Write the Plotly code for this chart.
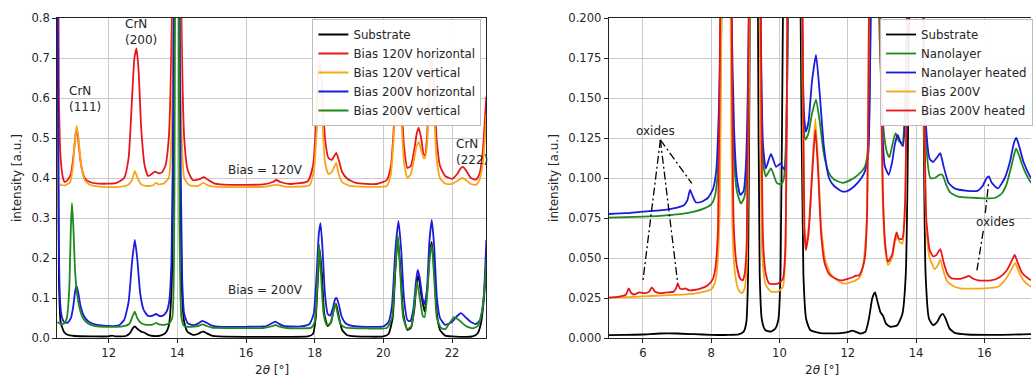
import plotly.graph_objects as go

# ---------------------------------------------------------------------------
# Diffraction patterns: (2theta [deg], intensity [a.u.]) sample points
# ---------------------------------------------------------------------------

# Panel 1: CrN coatings deposited with different bias voltages
left_substrate = [
    (10.5, 1.0), (10.55, 0.15), (10.6, 0.04), (10.7, 0.015), (10.8, 0.008), (11.0, 0.005),
    (11.5, 0.004), (12.0, 0.004), (12.1, 0.006), (12.2, 0.004), (12.5, 0.005), (12.62, 0.012),
    (12.7, 0.024), (12.76, 0.029), (12.85, 0.022), (12.95, 0.016), (13.05, 0.013), (13.15, 0.008),
    (13.3, 0.005), (13.5, 0.006), (13.65, 0.012), (13.75, 0.03), (13.83, 0.12), (13.9, 0.6),
    (13.98, 3.0), (14.06, 0.6), (14.13, 0.12), (14.2, 0.04), (14.3, 0.015), (14.45, 0.008),
    (14.6, 0.01), (14.7, 0.015), (14.76, 0.016), (14.85, 0.012), (15.0, 0.006), (15.2, 0.004),
    (16.0, 0.003), (17.0, 0.003), (17.8, 0.004), (17.95, 0.01), (18.03, 0.05), (18.1, 0.16),
    (18.15, 0.22), (18.21, 0.16), (18.28, 0.06), (18.38, 0.03), (18.48, 0.04), (18.55, 0.07),
    (18.62, 0.085), (18.7, 0.055), (18.8, 0.02), (18.95, 0.007), (19.2, 0.004), (20.0, 0.004),
    (20.15, 0.01), (20.27, 0.05), (20.35, 0.17), (20.42, 0.25), (20.5, 0.17), (20.58, 0.06),
    (20.7, 0.02), (20.8, 0.025), (20.9, 0.07), (20.97, 0.14), (21.02, 0.155), (21.1, 0.11),
    (21.2, 0.066), (21.28, 0.12), (21.35, 0.21), (21.41, 0.24), (21.48, 0.17), (21.56, 0.06),
    (21.65, 0.02), (21.8, 0.006), (22.0, 0.004), (22.6, 0.004), (22.75, 0.012), (22.85, 0.04),
    (22.93, 0.1), (23.0, 0.19),
]
left_120_horizontal = [
    (10.5, 1.5), (10.55, 0.6), (10.6, 0.45), (10.67, 0.4), (10.72, 0.39), (10.8, 0.395),
    (10.9, 0.41), (10.98, 0.46), (11.04, 0.51), (11.08, 0.52), (11.13, 0.48), (11.2, 0.43),
    (11.3, 0.4), (11.45, 0.39), (11.7, 0.386), (12.2, 0.387), (12.45, 0.4), (12.58, 0.45),
    (12.68, 0.6), (12.75, 0.7), (12.81, 0.724), (12.87, 0.67), (12.95, 0.52), (13.05, 0.43),
    (13.15, 0.405), (13.25, 0.41), (13.35, 0.416), (13.45, 0.412), (13.55, 0.414), (13.65, 0.43),
    (13.75, 0.5), (13.84, 0.8), (13.98, 3.0), (14.12, 0.8), (14.2, 0.5), (14.3, 0.42),
    (14.45, 0.395), (14.65, 0.397), (14.77, 0.402), (14.9, 0.395), (15.1, 0.386), (15.5, 0.383),
    (16.5, 0.384), (16.78, 0.39), (16.88, 0.395), (17.0, 0.39), (17.3, 0.385), (17.8, 0.392),
    (17.95, 0.43), (18.05, 0.55), (18.1, 0.66), (18.15, 0.69), (18.22, 0.62), (18.3, 0.5),
    (18.4, 0.45), (18.5, 0.445), (18.57, 0.455), (18.63, 0.463), (18.7, 0.445), (18.8, 0.415),
    (18.95, 0.398), (19.2, 0.388), (19.8, 0.385), (20.1, 0.395), (20.22, 0.43), (20.3, 0.52),
    (20.38, 0.64), (20.44, 0.67), (20.52, 0.6), (20.6, 0.48), (20.7, 0.425), (20.8, 0.43),
    (20.9, 0.47), (20.97, 0.51), (21.03, 0.526), (21.1, 0.5), (21.17, 0.46), (21.21, 0.456),
    (21.27, 0.5), (21.33, 0.62), (21.4, 0.7), (21.47, 0.64), (21.55, 0.5), (21.65, 0.43),
    (21.8, 0.405), (22.0, 0.398), (22.15, 0.41), (22.25, 0.424), (22.32, 0.428), (22.4, 0.42),
    (22.55, 0.4), (22.7, 0.396), (22.8, 0.41), (22.9, 0.47), (22.96, 0.55), (23.0, 0.603),
]
left_120_vertical = [
    (10.5, 0.39), (10.6, 0.383), (10.75, 0.382), (10.88, 0.39), (10.96, 0.43), (11.02, 0.5),
    (11.07, 0.53), (11.12, 0.5), (11.2, 0.43), (11.3, 0.395), (11.45, 0.383), (11.8, 0.378),
    (12.3, 0.378), (12.55, 0.382), (12.68, 0.395), (12.76, 0.418), (12.84, 0.4), (12.95, 0.384),
    (13.1, 0.38), (13.3, 0.382), (13.37, 0.388), (13.45, 0.384), (13.6, 0.386), (13.75, 0.4),
    (13.85, 0.6), (13.97, 3.0), (14.1, 0.6), (14.2, 0.4), (14.35, 0.382), (14.6, 0.38),
    (14.76, 0.388), (14.9, 0.381), (15.2, 0.378), (16.5, 0.378), (16.88, 0.383), (17.2, 0.378),
    (17.85, 0.382), (17.98, 0.42), (18.06, 0.52), (18.12, 0.6), (18.16, 0.62), (18.22, 0.55),
    (18.3, 0.44), (18.4, 0.41), (18.5, 0.415), (18.58, 0.43), (18.63, 0.438), (18.7, 0.41),
    (18.8, 0.39), (19.0, 0.381), (19.5, 0.378), (20.1, 0.38), (20.22, 0.41), (20.3, 0.5),
    (20.38, 0.6), (20.44, 0.62), (20.52, 0.55), (20.6, 0.44), (20.7, 0.4), (20.8, 0.41),
    (20.9, 0.45), (20.97, 0.48), (21.03, 0.49), (21.1, 0.47), (21.17, 0.45), (21.21, 0.45),
    (21.27, 0.48), (21.33, 0.58), (21.4, 0.65), (21.47, 0.58), (21.55, 0.45), (21.65, 0.4),
    (21.8, 0.386), (22.0, 0.385), (22.2, 0.395), (22.3, 0.4), (22.4, 0.395), (22.55, 0.385),
    (22.7, 0.383), (22.8, 0.395), (22.9, 0.44), (22.96, 0.5), (23.0, 0.56),
]
left_200_horizontal = [
    (10.5, 1.2), (10.54, 0.3), (10.58, 0.1), (10.63, 0.055), (10.7, 0.04), (10.8, 0.038),
    (10.9, 0.05), (10.97, 0.08), (11.02, 0.115), (11.06, 0.13), (11.11, 0.115), (11.18, 0.08),
    (11.28, 0.055), (11.4, 0.042), (11.6, 0.034), (12.0, 0.03), (12.3, 0.032), (12.45, 0.045),
    (12.58, 0.09), (12.68, 0.19), (12.76, 0.245), (12.83, 0.2), (12.92, 0.11), (13.02, 0.07),
    (13.15, 0.055), (13.28, 0.056), (13.38, 0.06), (13.48, 0.055), (13.58, 0.056), (13.68, 0.065),
    (13.76, 0.09), (13.83, 0.2), (13.88, 0.6), (13.98, 3.0), (14.08, 0.6), (14.14, 0.15),
    (14.2, 0.06), (14.3, 0.037), (14.45, 0.032), (14.6, 0.036), (14.73, 0.043), (14.85, 0.038),
    (15.0, 0.031), (15.3, 0.028), (16.0, 0.028), (16.6, 0.03), (16.78, 0.038), (16.86, 0.041),
    (16.95, 0.036), (17.1, 0.03), (17.6, 0.029), (17.85, 0.035), (17.97, 0.06), (18.05, 0.15),
    (18.12, 0.26), (18.17, 0.287), (18.23, 0.22), (18.3, 0.11), (18.38, 0.06), (18.45, 0.056),
    (18.53, 0.075), (18.6, 0.098), (18.64, 0.1), (18.7, 0.085), (18.78, 0.055), (18.9, 0.037),
    (19.1, 0.03), (19.5, 0.028), (20.0, 0.029), (20.15, 0.04), (20.25, 0.08), (20.35, 0.22),
    (20.44, 0.293), (20.52, 0.22), (20.6, 0.1), (20.7, 0.045), (20.78, 0.042), (20.87, 0.07),
    (20.95, 0.14), (21.0, 0.17), (21.06, 0.15), (21.14, 0.1), (21.2, 0.085), (21.27, 0.12),
    (21.34, 0.24), (21.41, 0.295), (21.48, 0.23), (21.56, 0.1), (21.65, 0.05), (21.8, 0.033),
    (22.0, 0.04), (22.15, 0.055), (22.26, 0.062), (22.38, 0.053), (22.55, 0.04), (22.7, 0.035),
    (22.82, 0.045), (22.92, 0.1), (23.0, 0.245),
]
left_200_vertical = [
    (10.5, 0.04), (10.6, 0.035), (10.7, 0.036), (10.78, 0.05), (10.85, 0.12), (10.9, 0.28),
    (10.93, 0.337), (10.97, 0.28), (11.02, 0.17), (11.08, 0.11), (11.15, 0.075), (11.25, 0.05),
    (11.4, 0.036), (11.6, 0.03), (12.0, 0.028), (12.4, 0.029), (12.6, 0.035), (12.7, 0.055),
    (12.76, 0.066), (12.83, 0.05), (12.95, 0.037), (13.1, 0.033), (13.3, 0.034), (13.38, 0.038),
    (13.46, 0.034), (13.6, 0.033), (13.75, 0.036), (13.85, 0.05), (13.91, 0.3), (13.99, 3.0),
    (14.06, 0.3), (14.12, 0.05), (14.2, 0.03), (14.4, 0.028), (14.6, 0.03), (14.74, 0.034),
    (14.85, 0.03), (15.0, 0.026), (15.5, 0.025), (16.5, 0.025), (16.78, 0.03), (16.86, 0.033),
    (16.95, 0.029), (17.2, 0.025), (17.9, 0.026), (18.0, 0.04), (18.07, 0.12), (18.13, 0.234),
    (18.19, 0.15), (18.26, 0.06), (18.35, 0.033), (18.45, 0.035), (18.53, 0.06), (18.6, 0.085),
    (18.67, 0.06), (18.75, 0.035), (18.9, 0.026), (19.5, 0.024), (20.1, 0.025), (20.25, 0.05),
    (20.33, 0.15), (20.42, 0.258), (20.5, 0.15), (20.58, 0.05), (20.7, 0.022), (20.82, 0.03),
    (20.9, 0.08), (20.98, 0.14), (21.06, 0.1), (21.15, 0.055), (21.2, 0.052), (21.27, 0.1),
    (21.35, 0.2), (21.41, 0.233), (21.48, 0.15), (21.56, 0.05), (21.68, 0.025), (21.8, 0.022),
    (21.95, 0.04), (22.06, 0.052), (22.2, 0.045), (22.4, 0.03), (22.6, 0.024), (22.75, 0.03),
    (22.88, 0.07), (22.96, 0.14), (23.0, 0.195),
]

# Panel 2: nanolayer and bias coatings, as deposited and heated
right_substrate = [
    (5.0, 0.0018), (5.5, 0.0019), (6.0, 0.0022), (6.5, 0.0028), (7.0, 0.0028), (7.5, 0.0024),
    (8.0, 0.002), (8.5, 0.0019), (8.8, 0.0022), (8.95, 0.004), (9.03, 0.01), (9.08, 0.04),
    (9.13, 0.2), (9.25, 1.0), (9.37, 0.2), (9.42, 0.04), (9.48, 0.012), (9.58, 0.005),
    (9.75, 0.004), (9.88, 0.006), (9.97, 0.012), (10.03, 0.04), (10.1, 0.2), (10.45, 1.0),
    (10.62, 0.2), (10.7, 0.04), (10.78, 0.012), (10.9, 0.005), (11.2, 0.003), (11.8, 0.003),
    (12.05, 0.004), (12.13, 0.0046), (12.22, 0.004), (12.38, 0.0027), (12.52, 0.004),
    (12.62, 0.012), (12.72, 0.025), (12.8, 0.0285), (12.88, 0.022), (12.96, 0.016),
    (13.03, 0.014), (13.12, 0.009), (13.25, 0.007), (13.45, 0.008), (13.6, 0.015), (13.7, 0.04),
    (13.8, 0.2), (14.0, 1.0), (14.2, 0.2), (14.28, 0.04), (14.38, 0.012), (14.5, 0.008),
    (14.62, 0.01), (14.72, 0.014), (14.79, 0.015), (14.87, 0.012), (14.98, 0.006), (15.15, 0.003),
    (15.5, 0.0022), (16.5, 0.002), (17.5, 0.0025),
]
right_nanolayer = [
    (5.0, 0.0752), (5.5, 0.0755), (6.0, 0.0758), (6.5, 0.0763), (7.0, 0.0772), (7.5, 0.079),
    (7.8, 0.081), (8.0, 0.0835), (8.1, 0.088), (8.18, 0.1), (8.25, 0.14), (8.3, 0.2),
    (8.45, 1.0), (8.58, 0.2), (8.65, 0.12), (8.75, 0.092), (8.87, 0.084), (8.97, 0.088),
    (9.05, 0.105), (9.12, 0.2), (9.28, 1.0), (9.43, 0.2), (9.52, 0.11), (9.6, 0.101),
    (9.75, 0.106), (9.92, 0.097), (10.05, 0.096), (10.13, 0.1), (10.2, 0.13), (10.25, 0.2),
    (10.45, 1.0), (10.65, 0.2), (10.7, 0.135), (10.76, 0.124), (10.85, 0.128), (10.95, 0.14),
    (11.07, 0.149), (11.18, 0.135), (11.3, 0.115), (11.45, 0.103), (11.6, 0.099), (11.85, 0.097),
    (12.1, 0.099), (12.3, 0.102), (12.5, 0.107), (12.6, 0.12), (12.67, 0.2), (12.82, 1.0),
    (12.92, 0.2), (12.98, 0.16), (13.05, 0.13), (13.15, 0.116), (13.22, 0.113), (13.3, 0.12),
    (13.4, 0.128), (13.5, 0.123), (13.6, 0.122), (13.67, 0.14), (13.73, 0.2), (14.0, 1.0),
    (14.22, 0.2), (14.3, 0.12), (14.42, 0.1), (14.55, 0.1), (14.68, 0.102), (14.77, 0.102),
    (14.88, 0.096), (15.0, 0.091), (15.23, 0.0883), (15.8, 0.0875), (16.3, 0.0875), (16.5, 0.09),
    (16.65, 0.096), (16.8, 0.108), (16.93, 0.1185), (17.02, 0.114), (17.15, 0.106),
    (17.34, 0.098), (17.5, 0.094),
]
right_nanolayer_heated = [
    (5.0, 0.0775), (5.5, 0.078), (6.0, 0.079), (6.5, 0.0797), (7.0, 0.0815), (7.2, 0.083),
    (7.3, 0.086), (7.38, 0.0925), (7.45, 0.089), (7.55, 0.0848), (7.7, 0.085), (7.9, 0.0875),
    (8.05, 0.093), (8.15, 0.105), (8.22, 0.14), (8.28, 0.2), (8.45, 1.0), (8.6, 0.2),
    (8.67, 0.13), (8.75, 0.1), (8.85, 0.0894), (8.95, 0.092), (9.02, 0.11), (9.1, 0.2),
    (9.28, 1.0), (9.45, 0.2), (9.52, 0.12), (9.6, 0.106), (9.75, 0.115), (9.9, 0.107),
    (10.03, 0.109), (10.15, 0.105), (10.2, 0.12), (10.24, 0.2), (10.45, 1.0), (10.66, 0.2),
    (10.72, 0.14), (10.77, 0.129), (10.85, 0.135), (10.95, 0.16), (11.07, 0.177), (11.17, 0.155),
    (11.3, 0.12), (11.45, 0.1), (11.6, 0.095), (11.85, 0.0915), (12.0, 0.092), (12.2, 0.095),
    (12.4, 0.1), (12.5, 0.104), (12.6, 0.115), (12.67, 0.2), (12.82, 1.0), (12.95, 0.2),
    (13.0, 0.14), (13.08, 0.108), (13.2, 0.102), (13.3, 0.11), (13.38, 0.121), (13.46, 0.127),
    (13.55, 0.122), (13.62, 0.12), (13.68, 0.14), (13.73, 0.2), (14.0, 1.0), (14.22, 0.2),
    (14.3, 0.13), (14.4, 0.112), (14.5, 0.11), (14.62, 0.113), (14.71, 0.1155), (14.8, 0.108),
    (14.95, 0.097), (15.13, 0.0935), (15.5, 0.092), (15.8, 0.092), (15.95, 0.095), (16.07, 0.1),
    (16.13, 0.101), (16.22, 0.097), (16.4, 0.0935), (16.6, 0.1), (16.75, 0.11), (16.87, 0.122),
    (16.94, 0.125), (17.02, 0.12), (17.15, 0.11), (17.34, 0.101), (17.5, 0.096),
]
right_bias200 = [
    (5.0, 0.0252), (5.5, 0.0255), (6.0, 0.026), (6.5, 0.0265), (7.0, 0.027), (7.5, 0.0278),
    (7.8, 0.029), (8.0, 0.0305), (8.1, 0.034), (8.18, 0.045), (8.25, 0.08), (8.3, 0.2),
    (8.45, 1.0), (8.57, 0.2), (8.62, 0.07), (8.7, 0.04), (8.8, 0.03), (8.9, 0.028),
    (8.98, 0.031), (9.05, 0.05), (9.12, 0.2), (9.3, 1.0), (9.42, 0.2), (9.5, 0.05),
    (9.6, 0.033), (9.75, 0.029), (9.95, 0.029), (10.1, 0.032), (10.17, 0.05), (10.23, 0.2),
    (10.45, 1.0), (10.67, 0.2), (10.72, 0.07), (10.78, 0.058), (10.88, 0.075), (10.97, 0.11),
    (11.05, 0.137), (11.13, 0.11), (11.22, 0.07), (11.35, 0.048), (11.5, 0.04), (11.7, 0.036),
    (11.9, 0.034), (12.1, 0.035), (12.23, 0.036), (12.35, 0.038), (12.45, 0.045), (12.55, 0.07),
    (12.62, 0.2), (12.78, 1.0), (12.95, 0.2), (13.02, 0.09), (13.1, 0.055), (13.18, 0.0456),
    (13.3, 0.05), (13.38, 0.06), (13.45, 0.064), (13.52, 0.06), (13.6, 0.059), (13.68, 0.08),
    (13.74, 0.2), (14.0, 1.0), (14.2, 0.2), (14.3, 0.07), (14.4, 0.05), (14.55, 0.043),
    (14.65, 0.046), (14.71, 0.049), (14.8, 0.042), (14.9, 0.036), (15.05, 0.033), (15.3, 0.031),
    (16.0, 0.031), (16.4, 0.032), (16.6, 0.036), (16.75, 0.041), (16.9, 0.047), (17.0, 0.042),
    (17.15, 0.036), (17.3, 0.033), (17.5, 0.031),
]
right_bias200_heated = [
    (5.0, 0.0252), (5.3, 0.0258), (5.5, 0.027), (5.58, 0.031), (5.66, 0.028), (5.75, 0.0272),
    (5.9, 0.0285), (6.05, 0.028), (6.18, 0.029), (6.26, 0.0317), (6.35, 0.029), (6.5, 0.028),
    (6.7, 0.0285), (6.9, 0.029), (6.97, 0.031), (7.02, 0.034), (7.08, 0.031), (7.15, 0.0305),
    (7.24, 0.031), (7.35, 0.0298), (7.5, 0.030), (7.7, 0.031), (7.9, 0.033), (8.05, 0.037),
    (8.13, 0.045), (8.2, 0.07), (8.26, 0.2), (8.45, 1.0), (8.6, 0.2), (8.66, 0.07),
    (8.75, 0.045), (8.85, 0.037), (8.92, 0.036), (8.98, 0.04), (9.04, 0.06), (9.1, 0.2),
    (9.28, 1.0), (9.45, 0.2), (9.52, 0.06), (9.6, 0.04), (9.7, 0.034), (9.95, 0.034),
    (10.1, 0.037), (10.17, 0.055), (10.23, 0.2), (10.45, 1.0), (10.68, 0.2), (10.73, 0.07),
    (10.77, 0.055), (10.85, 0.065), (10.95, 0.1), (11.05, 0.13), (11.13, 0.105), (11.22, 0.065),
    (11.32, 0.047), (11.45, 0.04), (11.65, 0.037), (11.82, 0.036), (12.0, 0.037), (12.15, 0.038),
    (12.23, 0.039), (12.32, 0.039), (12.42, 0.043), (12.5, 0.05), (12.57, 0.08), (12.62, 0.2),
    (12.8, 1.0), (12.95, 0.2), (13.03, 0.09), (13.1, 0.058), (13.18, 0.0477), (13.3, 0.052),
    (13.38, 0.062), (13.43, 0.066), (13.5, 0.062), (13.6, 0.062), (13.68, 0.085), (13.74, 0.2),
    (14.0, 1.0), (14.22, 0.2), (14.3, 0.075), (14.4, 0.055), (14.5, 0.051), (14.6, 0.052),
    (14.71, 0.0556), (14.8, 0.048), (14.92, 0.04), (15.04, 0.0373), (15.3, 0.037), (15.45, 0.038),
    (15.55, 0.0388), (15.68, 0.037), (15.82, 0.036), (16.2, 0.036), (16.45, 0.038), (16.65, 0.042),
    (16.8, 0.048), (16.89, 0.052), (16.98, 0.047), (17.1, 0.041), (17.3, 0.037), (17.5, 0.035),
]

left_series = [
    ("Substrate", left_substrate, "#000000"),
    ("Bias 120V horizontal", left_120_horizontal, "#e8161b"),
    ("Bias 120V vertical", left_120_vertical, "#f9a51a"),
    ("Bias 200V horizontal", left_200_horizontal, "#1a1ae0"),
    ("Bias 200V vertical", left_200_vertical, "#1e8a1e"),
]
right_series = [
    ("Substrate", right_substrate, "#000000"),
    ("Nanolayer", right_nanolayer, "#1e8a1e"),
    ("Nanolayer heated", right_nanolayer_heated, "#1a1ae0"),
    ("Bias 200V", right_bias200, "#f9a51a"),
    ("Bias 200V heated", right_bias200_heated, "#e8161b"),
]

left_xticks = [12, 14, 16, 18, 20, 22]
right_xticks = [6, 8, 10, 12, 14, 16]

FONT = "DejaVu Sans"
TXT = "#262626"
GRID = "#cbcbcb"
W, H = 1033, 378
FS = 12

fig = go.Figure()


def add_series(series, xa, ya, legend):
    for name, pts, color in series:
        xs = [p[0] for p in pts]
        ys = [p[1] for p in pts]
        fig.add_trace(go.Scatter(
            x=xs, y=ys, mode="lines", name=name, xaxis=xa, yaxis=ya,
            legend=legend, line=dict(color=color, width=1.8, shape="spline", smoothing=0.5),
        ))


add_series(left_series, "x", "y", "legend")
add_series(right_series, "x2", "y2", "legend2")

# plot areas in pixels
L1, R1 = 57.3, 487.3
L2, R2 = 610.0, 1033.0
TOP, BOT = 18.0, 338.0
ydom = [(H - BOT) / H, (H - TOP) / H]

axis_common = dict(
    showgrid=True, gridcolor=GRID, gridwidth=1, zeroline=False,
    ticks="outside", ticklen=4, tickwidth=1, tickcolor="#222",
    showline=True, linecolor="#222", linewidth=1,
    tickfont=dict(family=FONT, size=11.6, color=TXT), automargin=False,
)

legend_style = dict(
    yanchor="top", xanchor="left", y=(H - 19) / H,
    bgcolor="rgba(255,255,255,0.93)", bordercolor="#bdbdbd", borderwidth=1,
    font=dict(family=FONT, size=11.8, color=TXT), tracegroupgap=0,
)

fig.update_layout(
    width=W, height=H,
    margin=dict(l=0, r=0, t=0, b=0),
    plot_bgcolor="white", paper_bgcolor="white",
    font=dict(family=FONT, size=FS, color=TXT),
    xaxis=dict(domain=[L1 / W, R1 / W], range=[10.5, 23.0], tickvals=left_xticks,
               mirror=True, anchor="y", **axis_common),
    yaxis=dict(domain=ydom, range=[0, 0.8], dtick=0.1, tickformat=".1f",
               mirror=True, anchor="x", **axis_common),
    xaxis2=dict(domain=[L2 / W, R2 / W], range=[5.0, 5.0 + (R2 - L2) / 34.2],
                tickvals=right_xticks, mirror=True, anchor="y2", **axis_common),
    yaxis2=dict(domain=ydom, range=[0, 0.2], dtick=0.025, tickformat=".3f",
                mirror=False, anchor="x2", **axis_common),
    legend=dict(x=313 / W, **legend_style),
    legend2=dict(x=882 / W, **legend_style),
    showlegend=True,
)

# peak labels, panel 1
labels_left = [
    ("CrN<br>(111)", 10.8, 0.5975, "left"),
    ("CrN<br>(200)", 12.42, 0.766, "left"),
    ("CrN<br>(222)", 22.07, 0.465, "left"),
    ("Bias = 120V", 16.56, 0.42, "center"),
    ("Bias = 200V", 16.56, 0.12, "center"),
]
for text, x, y, anc in labels_left:
    fig.add_annotation(x=x, y=y, xref="x", yref="y", text=text, showarrow=False,
                       xanchor=anc, yanchor="middle", align="left",
                       font=dict(family=FONT, size=FS, color=TXT))

# oxide labels and pointer lines, panel 2
fig.add_annotation(x=6.37, y=0.1294, xref="x2", yref="y2", text="oxides", showarrow=False,
                   xanchor="center", yanchor="middle", font=dict(family=FONT, size=FS, color=TXT))
fig.add_annotation(x=16.34, y=0.0725, xref="x2", yref="y2", text="oxides", showarrow=False,
                   xanchor="center", yanchor="middle", font=dict(family=FONT, size=FS, color=TXT))

pointer_lines = [
    ((6.51, 0.1238), (6.0, 0.036)),
    ((6.51, 0.1238), (7.02, 0.034)),
    ((6.51, 0.1238), (7.43, 0.0967)),
    ((16.03, 0.0781), (16.13, 0.0977)),
    ((15.97, 0.0669), (15.77, 0.0404)),
]
for (x0, y0), (x1, y1) in pointer_lines:
    fig.add_shape(type="line", xref="x2", yref="y2", x0=x0, y0=y0, x1=x1, y1=y1,
                  line=dict(color="black", width=1.3, dash="8px,3px,2px,3px"))

# axis titles
for cx in [(L1 + R1) / 2, (L2 + 1038) / 2]:
    fig.add_annotation(x=cx / W, y=(H - 370) / H, xref="paper", yref="paper",
                       text="2<i>θ</i> [°]", showarrow=False, xanchor="center", yanchor="middle",
                       font=dict(family=FONT, size=FS, color=TXT))
for cx in [17, 555]:
    fig.add_annotation(x=cx / W, y=(H - 178) / H, xref="paper", yref="paper",
                       text="intensity [a.u.]", showarrow=False, textangle=-90,
                       xanchor="center", yanchor="middle",
                       font=dict(family=FONT, size=FS, color=TXT))

fig.write_html("out.html")
